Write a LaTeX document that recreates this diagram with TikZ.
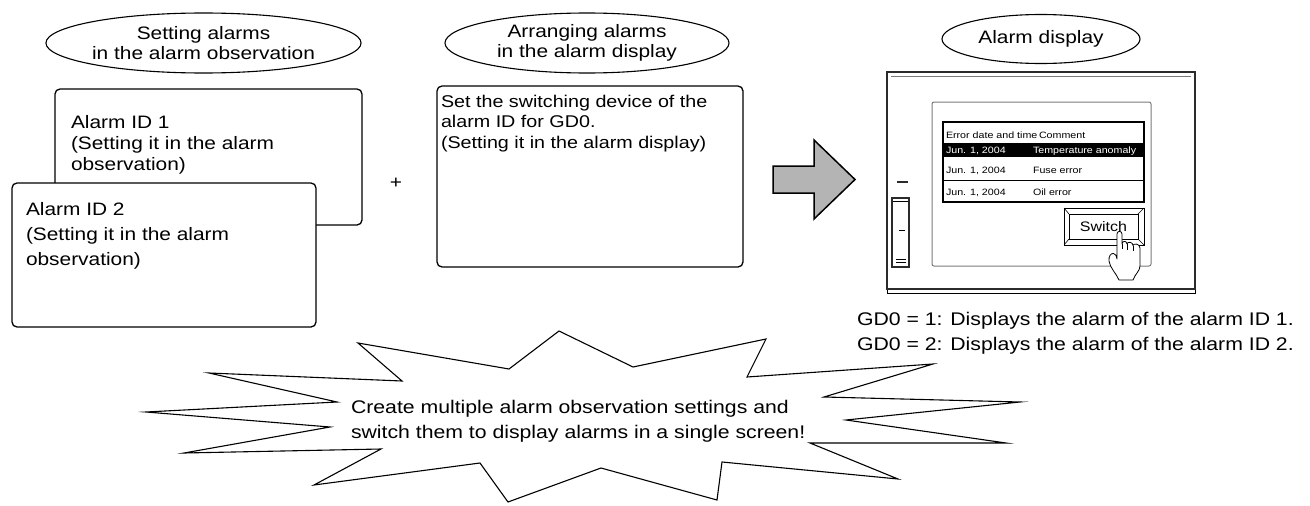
\documentclass[tikz,border=0pt]{standalone}
\usepackage{fontspec}
\setmainfont{Liberation Sans}[FakeStretch=1.16]
\usetikzlibrary{shapes.geometric}
\definecolor{arrowgray}{HTML}{B4B4B4}
\definecolor{bezel}{HTML}{2B2B2B}
\definecolor{screenline}{HTML}{7A7A7A}
\begin{document}
\begin{tikzpicture}[x=1pt,y=-1pt,
  every node/.style={inner sep=0pt,outer sep=0pt},
  tagoval/.style={ellipse,draw,line width=1.1pt,align=center,
    font=\fontsize{18}{20}\selectfont},
  card/.style={draw,fill=white,line width=1.3pt,rounded corners=5pt,anchor=north west},
  % multi-line texts are placed by the baseline of their last line
  cardtext/.style={anchor=base west,align=left,font=\fontsize{18}{#1}\selectfont},
  bigtext/.style={anchor=base west,align=left,font=\fontsize{18.3}{25}\selectfont},
  cell/.style={anchor=base west,font=\fontsize{9.2}{11}\selectfont},
  thinline/.style={line width=0.6pt},
]
\useasboundingbox (0,0) rectangle (1310,506);

% ---- column headings
\node[tagoval,minimum width=285pt,minimum height=60pt] (tagObs) at (203.5,43)
  {Setting alarms\\in the alarm observation};
\node[tagoval,minimum width=284pt,minimum height=60pt] (tagArr) at (587,43)
  {Arranging alarms\\in the alarm display};
\node[tagoval,minimum width=198pt,minimum height=49pt] (tagDisp) at (1041,39)
  {Alarm display};

% ---- alarm ID cards
\node[card,minimum width=307pt,minimum height=136pt] (cardOne) at (55,89) {};
\node[cardtext=21] (textOne) at (71,170)
  {Alarm ID 1\\(Setting it in the alarm\\observation)};
\node[card,minimum width=304pt,minimum height=144pt] (cardTwo) at (12,183) {};
\node[cardtext=25] (textTwo) at (26,265)
  {Alarm ID 2\\(Setting it in the alarm\\observation)};

\node[font=\fontsize{18}{20}\selectfont] (plus) at (396,183) {+};

% ---- switching device card
\node[card,minimum width=306pt,minimum height=181pt] (cardSw) at (437,86) {};
\node[anchor=base west,align=left,font=\fontsize{17}{20.5}\selectfont] (textSw) at (441,148)
  {Set the switching device of the\\alarm ID for GD0.\\(Setting it in the alarm display)};

% ---- block arrow
\draw[fill=arrowgray,line width=1.5pt,line join=miter]
  (773,166) -- (814,166) -- (814,140) -- (855,179.5) -- (814,219) -- (814,193) -- (773,193) -- cycle;

% ---- display unit
\draw[thinline] (887,71) rectangle (1195,293);
\draw[bezel,line width=2pt] (887,72) -- (1195,72) -- (1195,289) -- (887,289) -- cycle;
\draw[screenline,thinline] (891,76) -- (1191,76);
\draw[screenline,line width=1pt,rounded corners=2pt] (932,102) rectangle (1151,266);

% side switch
\draw[bezel,line width=1.5pt] (897,182) -- (908,182);
\draw[bezel,line width=1.3pt] (892,198) rectangle (909,267);
\draw[thinline] (893,201) -- (908,201);
\draw[thinline] (899,230) -- (905,230);
\draw[thinline] (896,259) -- (906,259) (896,262) -- (906,262);

% alarm list
\fill (943,143) rectangle (1144,157);
\draw[line width=1.2pt] (943,122) rectangle (1144,202);
\draw[line width=1pt] (943,180) -- (1144,180);
\node[cell] (hDate) at (946,138) {Error date and time};
\node[cell] (hCom) at (1039,138) {Comment};
\node[cell,text=white] (rOneD) at (946,153) {Jun. 1, 2004};
\node[cell,text=white] (rOneC) at (1033,153) {Temperature anomaly};
\node[cell] (rTwoD) at (946,173) {Jun. 1, 2004};
\node[cell] (rTwoC) at (1033,173) {Fuse error};
\node[cell] (rThrD) at (946,195) {Jun. 1, 2004};
\node[cell] (rThrC) at (1033,195) {Oil error};

% switch button
\draw[thinline] (1064,208) rectangle (1144,245);
\draw[line width=0.9pt] (1069,214) rectangle (1138,239);
\draw[thinline] (1064,208) -- (1069,214) (1144,208) -- (1138,214)
  (1064,245) -- (1069,239) (1144,245) -- (1138,239);
\node[font=\fontsize{13.8}{16}\selectfont] (btn) at (1103.5,226.5) {Switch};

% pointing hand
\draw[fill=white,line width=0.8pt,line join=round]
  (1117,257) -- (1117,234) .. controls (1117,230.5) and (1122,230.5) .. (1122,234)
  -- (1122,244) .. controls (1122,240.5) and (1127,240.5) .. (1127,244)
  .. controls (1127,241.5) and (1133,241.5) .. (1133,245.5)
  .. controls (1133,243) and (1140,243.5) .. (1140,248)
  -- (1140,266) .. controls (1140,271) and (1135,274) .. (1133,280)
  -- (1119,280) .. controls (1116,273) and (1110,268) .. (1109,261)
  .. controls (1108.5,256) and (1111,253) .. (1113.5,253.5)
  .. controls (1115.5,254) and (1117,256) .. (1117,259) -- cycle;
\draw[line width=0.8pt] (1122,244) -- (1122,249) (1127,244) -- (1127,250) (1133,245.5) -- (1133,251);

\node[bigtext] (gdNote) at (857,350)
  {GD0 = 1: Displays the alarm of the alarm ID 1.\\GD0 = 2: Displays the alarm of the alarm ID 2.};

% ---- starburst callout
\draw[line width=1.1pt,line join=miter,miter limit=20]
  (358,343) -- (509,369) -- (559,331) -- (633,367) -- (766,339) -- (747,377)
  -- (933,364) -- (824,397) -- (1020,402) -- (846,420) -- (1006,443) -- (810,443)
  -- (898,479) -- (722,462) -- (717,500) -- (601,468) -- (508,502) -- (480,463)
  -- (314,485) -- (381,449) -- (184,453) -- (330,427) -- (146,412) -- (337,402)
  -- (209,373) -- (402,381) -- cycle;
\node[bigtext] (burstText) at (351,438)
  {Create multiple alarm observation settings and\\switch them to display alarms in a single screen!};
\end{tikzpicture}
\end{document}
